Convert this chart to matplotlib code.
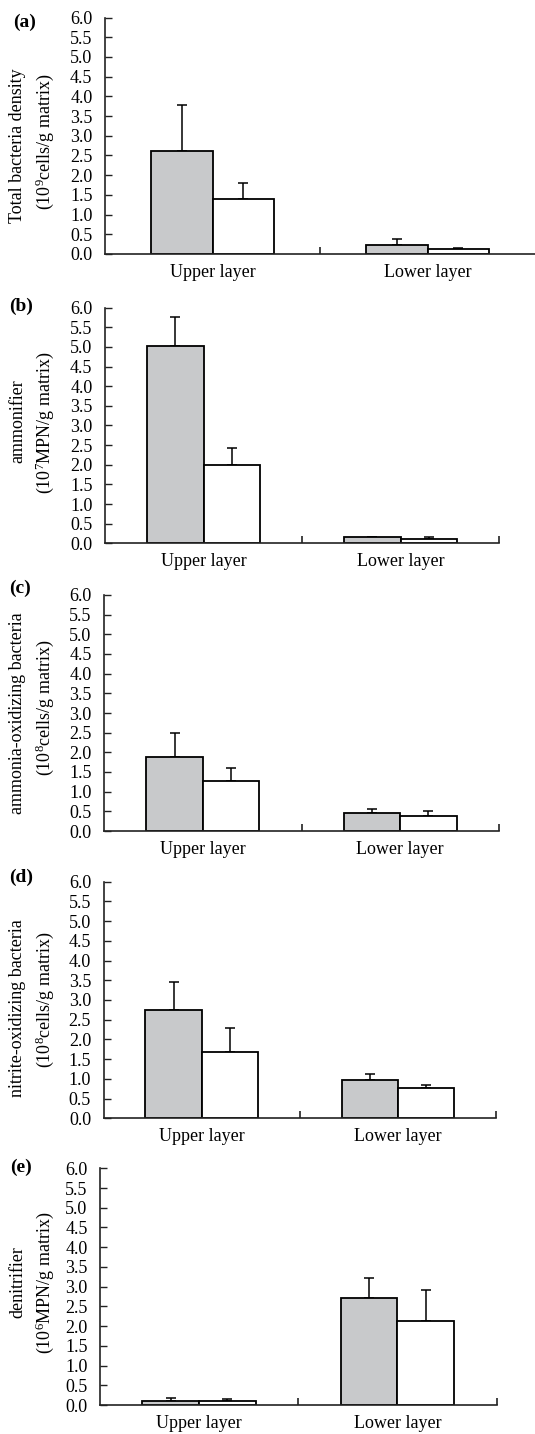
import matplotlib
matplotlib.use("Agg")
import matplotlib.pyplot as plt
import numpy as np

plt.rcParams['font.family'] = ['Liberation Serif', 'DejaVu Serif']
plt.rcParams['mathtext.fontset'] = 'custom'
plt.rcParams['mathtext.rm'] = 'Liberation Serif'
plt.rcParams['mathtext.it'] = 'Liberation Serif:italic'

# ---- data ----
layers = ["Upper layer", "Lower layer"]
panel_tags = ["(a)", "(b)", "(c)", "(d)", "(e)"]
ylabel_line1 = ["Total bacteria density", "ammonifier", "ammonia-oxidizing bacteria",
                "nitrite-oxidizing bacteria", "denitrifier"]
ylabel_line2 = [r"(10$^{\mathrm{9}}$cells/g matrix)", r"(10$^{\mathrm{7}}$MPN/g matrix)",
                r"(10$^{\mathrm{8}}$cells/g matrix)", r"(10$^{\mathrm{8}}$cells/g matrix)",
                r"(10$^{\mathrm{6}}$MPN/g matrix)"]

gray_a = [2.62, 0.23]; gray_err_a = [1.16, 0.15]
white_a = [1.39, 0.12]; white_err_a = [0.40, 0.02]
gray_b = [5.03, 0.15]; gray_err_b = [0.74, 0.01]
white_b = [2.00, 0.12]; white_err_b = [0.42, 0.03]
gray_c = [1.87, 0.47]; gray_err_c = [0.63, 0.09]
white_c = [1.28, 0.39]; white_err_c = [0.32, 0.13]
gray_d = [2.74, 0.96]; gray_err_d = [0.72, 0.17]
white_d = [1.67, 0.78]; white_err_d = [0.63, 0.06]
gray_e = [0.11, 2.70]; gray_err_e = [0.07, 0.52]
white_e = [0.11, 2.14]; white_err_e = [0.03, 0.78]

gray_vals = [gray_a, gray_b, gray_c, gray_d, gray_e]
gray_errs = [gray_err_a, gray_err_b, gray_err_c, gray_err_d, gray_err_e]
white_vals = [white_a, white_b, white_c, white_d, white_e]
white_errs = [white_err_a, white_err_b, white_err_c, white_err_d, white_err_e]

yticks = np.arange(0, 6.01, 0.5)

# ---- layout (pixels) ----
W, H = 535, 1434
boxes = [(105, 535, 17.5, 254), (105, 499, 307.7, 543.3), (104, 499, 595, 831),
         (103.5, 496, 881.7, 1118.3), (100, 496.5, 1168.3, 1405)]
tag_pos = [(13, 22), (9, 306), (9, 588), (9, 877), (10, 1167)]
lab_y = [(146, 142), (421, 423), (713, 708), (1008, 1000), (1282, 1283)]

fig = plt.figure(figsize=(W / 100, H / 100), dpi=100)
gray_color = '#c8c9cb'
bw = 0.286
x = np.array([0.5, 1.5])

for i in range(5):
    L, R, T, B = boxes[i]
    ax = fig.add_axes([L / W, (H - B) / H, (R - L) / W, (B - T) / H])
    ax.bar(x - bw / 2, gray_vals[i], bw, color=gray_color, edgecolor='black', linewidth=1.3, zorder=2)
    ax.bar(x + bw / 2, white_vals[i], bw, color='white', edgecolor='black', linewidth=1.3, zorder=2)
    ax.errorbar(x - bw / 2, gray_vals[i], yerr=[np.zeros(2), gray_errs[i]], fmt='none',
                ecolor='black', elinewidth=1.1, capsize=3.5, capthick=1.1, zorder=1)
    ax.errorbar(x + bw / 2, white_vals[i], yerr=[np.zeros(2), white_errs[i]], fmt='none',
                ecolor='black', elinewidth=1.1, capsize=3.5, capthick=1.1, zorder=1)
    ax.set_xlim(0, 2)
    ax.set_ylim(0, 6.0)
    for s in ['top', 'right']:
        ax.spines[s].set_visible(False)
    for s in ['left', 'bottom']:
        ax.spines[s].set_linewidth(1.2)
        ax.spines[s].set_color('#222222')
    ax.set_yticks(yticks)
    ax.set_yticklabels([f"{v:.1f}" for v in yticks])
    ax.tick_params(axis='y', direction='in', length=5, width=1, labelsize=13, pad=9,
                   color='#222222')
    ax.set_xticks([1] if i == 0 else [1, 2])
    ax.set_xticklabels([])
    ax.set_xticks(x, minor=True)
    ax.set_xticklabels(layers, minor=True)
    ax.tick_params(axis='x', which='major', direction='in', length=5, width=1.2, color='#222222')
    ax.tick_params(axis='x', which='minor', length=0, labelsize=13, pad=7)
    ax.spines['bottom'].set_zorder(3)

    tx, ty = tag_pos[i]
    fig.text(tx / W, 1 - ty / H, panel_tags[i], fontsize=14, fontweight='bold',
             ha='left', va='center')
    y1, y2 = lab_y[i]
    fig.text(18 / W, 1 - y1 / H, ylabel_line1[i], rotation=90, fontsize=13,
             ha='center', va='center')
    fig.text(45 / W, 1 - y2 / H, ylabel_line2[i], rotation=90, fontsize=13,
             ha='center', va='center')

fig.savefig("out.png", dpi=100)
